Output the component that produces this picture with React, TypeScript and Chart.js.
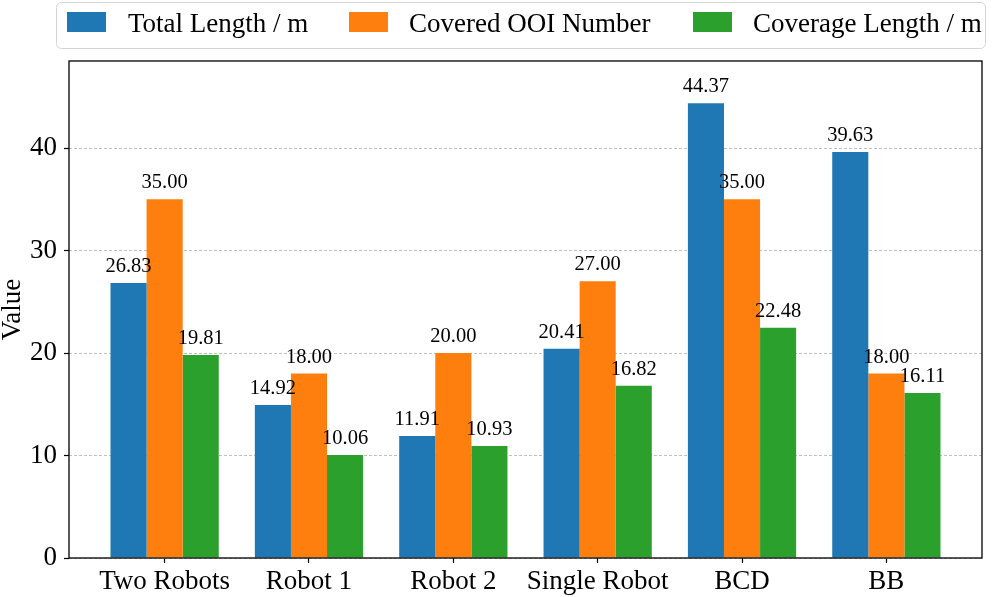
import React, { useEffect, useRef } from "react";
import { Chart, registerables } from "chart.js";

Chart.register(...registerables);

const categories = ["Two Robots", "Robot 1", "Robot 2", "Single Robot", "BCD", "BB"];
const seriesLabels = ["Total Length / m", "Covered OOI Number", "Coverage Length / m"];
const totalLength = [26.83, 14.92, 11.91, 20.41, 44.37, 39.63];
const coveredOOI = [35.0, 18.0, 20.0, 27.0, 35.0, 18.0];
const coverageLength = [19.81, 10.06, 10.93, 16.82, 22.48, 16.11];
const seriesColors = ["#1f77b4", "#ff7f0e", "#2ca02c"];
const yTicks = [0, 10, 20, 30, 40];

const FONT = '"Liberation Serif", "Times New Roman", "DejaVu Serif", serif';

const framePlugin = {
  id: "frame",
  afterDraw(chart: any) {
    const { ctx, chartArea } = chart;
    ctx.save();
    ctx.strokeStyle = "#000";
    ctx.lineWidth = 1.3;
    ctx.strokeRect(chartArea.left, chartArea.top, chartArea.right - chartArea.left, chartArea.bottom - chartArea.top);
    // y-axis title
    ctx.translate(13, (chartArea.top + chartArea.bottom) / 2);
    ctx.rotate(-Math.PI / 2);
    ctx.font = `27px ${FONT}`;
    ctx.fillStyle = "#000";
    ctx.textAlign = "center";
    ctx.textBaseline = "middle";
    ctx.fillText("Value", 0, 0);
    ctx.restore();
  },
};

const valueLabelPlugin = {
  id: "valueLabels",
  afterDatasetsDraw(chart: any) {
    const { ctx } = chart;
    ctx.save();
    ctx.font = `20.5px ${FONT}`;
    ctx.fillStyle = "#000";
    ctx.textAlign = "center";
    ctx.textBaseline = "alphabetic";
    chart.data.datasets.forEach((ds: any, di: number) => {
      const meta = chart.getDatasetMeta(di);
      meta.data.forEach((el: any, i: number) => {
        const v = ds.data[i].y;
        ctx.fillText(v.toFixed(2), el.x, el.y - 11);
      });
    });
    ctx.restore();
  },
};

const legendPlugin = {
  id: "customLegend",
  afterDraw(chart: any) {
    const { ctx } = chart;
    ctx.save();
    const x0 = 56.5, y0 = 2.5, w = 929, h = 46, r = 5;
    ctx.beginPath();
    ctx.moveTo(x0 + r, y0);
    ctx.arcTo(x0 + w, y0, x0 + w, y0 + h, r);
    ctx.arcTo(x0 + w, y0 + h, x0, y0 + h, r);
    ctx.arcTo(x0, y0 + h, x0, y0, r);
    ctx.arcTo(x0, y0, x0 + w, y0, r);
    ctx.closePath();
    ctx.fillStyle = "rgba(255,255,255,0.8)";
    ctx.fill();
    ctx.strokeStyle = "#d4d4d4";
    ctx.lineWidth = 1;
    ctx.stroke();
    const boxX = [67, 349, 693];
    const textX = [128, 409, 753];
    ctx.font = `27px ${FONT}`;
    ctx.textBaseline = "alphabetic";
    ctx.textAlign = "left";
    chart.data.datasets.forEach((ds: any, i: number) => {
      ctx.fillStyle = ds.backgroundColor;
      ctx.fillRect(boxX[i], 12, 39, 20);
      ctx.fillStyle = "#000";
      ctx.fillText(ds.label, textX[i], 32);
    });
    ctx.restore();
  },
};

export default function App() {
  const ref = useRef<HTMLCanvasElement | null>(null);
  useEffect(() => {
    if (!ref.current) return;
    const series = [totalLength, coveredOOI, coverageLength];
    const chart = new Chart(ref.current, {
      type: "bar",
      data: {
        datasets: series.map((vals, si) => ({
          label: seriesLabels[si],
          data: vals.map((v, i) => ({ x: i, y: v })),
          backgroundColor: seriesColors[si],
          borderWidth: 0,
          categoryPercentage: 0.75,
          barPercentage: 1.0,
        })),
      },
      options: {
        animation: false,
        responsive: false,
        devicePixelRatio: 1,
        layout: { padding: { top: 61, right: 15, left: 0, bottom: 0 } },
        plugins: { legend: { display: false }, tooltip: { enabled: false } },
        scales: {
          x: {
            type: "linear",
            min: -0.6625,
            max: 5.6625,
            offset: false,
            afterFit: (s: any) => { s.height = 39; },
            ticks: {
              stepSize: 1,
              includeBounds: false,
              autoSkip: false,
              maxRotation: 0,
              padding: 3,
              color: "#000",
              font: { family: FONT, size: 27 },
              callback: (v: any) => categories[v] ?? "",
            },
            grid: { offset: false, drawOnChartArea: false, drawTicks: true, tickLength: 5, tickColor: "#000", tickWidth: 1.2, color: "#000" },
            border: { display: false },
          },
          y: {
            min: 0,
            max: 48.5,
            afterFit: (s: any) => { s.width = 69; },
            afterBuildTicks: (s: any) => { s.ticks = yTicks.map((v) => ({ value: v })); },
            ticks: {
              stepSize: 10,
              includeBounds: false,
              padding: 7,
              color: "#000",
              font: { family: FONT, size: 27 },
            },
            grid: { color: "#b0b0b0", lineWidth: 0.8, drawTicks: true, tickLength: 5, tickColor: "#000", tickWidth: 1.2, tickBorderDash: [] },
            border: { display: false, dash: [3, 2] },
          },
        },
      },
      plugins: [valueLabelPlugin, framePlugin, legendPlugin],
    } as any);
    return () => chart.destroy();
  }, []);
  return (
    <div style={{ position: "fixed", left: 0, top: 0, width: 997, height: 597, background: "#fff" }}>
      <canvas ref={ref} width={997} height={597} style={{ width: 997, height: 597, display: "block" }} />
    </div>
  );
}
